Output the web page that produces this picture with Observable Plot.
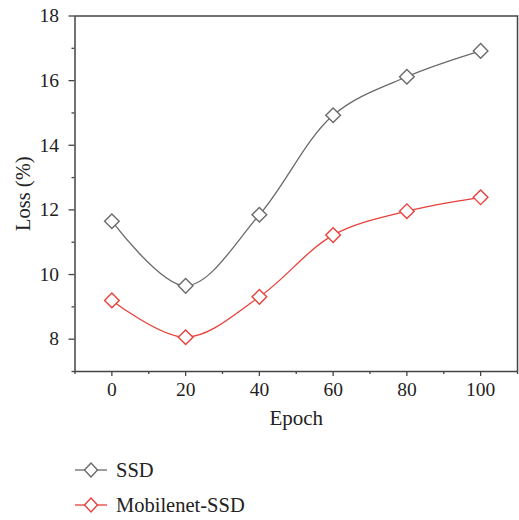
<!DOCTYPE html>
<html>
<head>
<meta charset="utf-8">
<script src="https://cdn.jsdelivr.net/npm/d3@7"></script>
<script src="https://cdn.jsdelivr.net/npm/@observablehq/plot@0.6"></script>
<style>
  body { margin: 0; background: #fff; font-family: 'Liberation Serif', 'DejaVu Serif', serif; }
  #chart svg { display: block; }
  #chart svg text { font-family: 'Liberation Serif', 'DejaVu Serif', serif !important; }
  .legend { position: relative; height: 80px; }
  .legend .row { position: absolute; left: 0; height: 24px; display: flex; align-items: center; font-size: 20.5px; color: #222; font-family: 'Liberation Serif', serif; }
</style>
</head>
<body>
<div id="chart"></div>
<div class="legend" id="legend"></div>
<script>
const epochs = [0, 20, 40, 60, 80, 100];
const ssd = [11.65, 9.65, 11.85, 14.93, 16.12, 16.92];
const mobilenetSsd = [9.2, 8.06, 9.31, 11.22, 11.96, 12.39];
const seriesNames = ["SSD", "Mobilenet-SSD"];
const seriesColors = ["#6a6a6a", "#e8403a"];
const xMajorTicks = [0, 20, 40, 60, 80, 100];
const xMinorTicks = [-10, 10, 30, 50, 70, 90, 110];
const yMajorTicks = [8, 10, 12, 14, 16, 18];
const yMinorTicks = [7, 9, 11, 13, 15, 17];

const data = [];
epochs.forEach((e, i) => {
  data.push({epoch: e, loss: ssd[i], series: seriesNames[0]});
});
epochs.forEach((e, i) => {
  data.push({epoch: e, loss: mobilenetSsd[i], series: seriesNames[1]});
});

const axisColor = "#444";
const fontSize = 19.5;
const serif = "'Liberation Serif', 'DejaVu Serif', serif";

const plot = Plot.plot({
  width: 519,
  height: 440,
  marginLeft: 74.5,
  marginRight: 2,
  marginTop: 15.5,
  marginBottom: 69,
  style: {fontFamily: serif, fontSize: fontSize + "px", color: "#222", background: "#fff"},
  x: {domain: [-10, 110]},
  y: {domain: [7, 18]},
  marks: [
    Plot.axisX({ticks: xMinorTicks, tickSize: 3, tickFormat: () => "", stroke: axisColor, strokeWidth: 1.3, label: null}),
    Plot.axisX({ticks: xMajorTicks, tickSize: 5, tickPadding: 6, stroke: axisColor, strokeWidth: 1.3, label: null, fontSize: fontSize, fill: "#222", fontFamily: serif}),
    Plot.axisY({ticks: yMinorTicks, tickSize: 3, tickFormat: () => "", stroke: axisColor, strokeWidth: 1.3, label: null}),
    Plot.axisY({ticks: yMajorTicks, tickSize: 6, tickPadding: 10, stroke: axisColor, strokeWidth: 1.3, label: null, fontSize: fontSize, fill: "#222", fontFamily: serif}),
    Plot.frame({stroke: axisColor, strokeWidth: 1.5}),
    Plot.line(data, {x: "epoch", y: "loss", z: "series", stroke: d => seriesColors[seriesNames.indexOf(d.series)], strokeWidth: 1.3, curve: "catmull-rom"}),
    Plot.dot(data, {x: "epoch", y: "loss", symbol: "diamond2", r: 6.6, fill: "#fff", stroke: d => seriesColors[seriesNames.indexOf(d.series)], strokeWidth: 1.4}),
    Plot.text(["Epoch"], {frameAnchor: "bottom", dy: 53, fontSize: 21, fill: "#222", fontFamily: serif, text: d => d}),
    Plot.text(["Loss (%)"], {frameAnchor: "left", dx: -52, rotate: -90, textAnchor: "middle", fontSize: 20.5, fill: "#222", fontFamily: serif, text: d => d})
  ]
});
document.getElementById("chart").appendChild(plot);

// Legend
const legend = document.getElementById("legend");
const rowTops = [30, 65];
seriesNames.forEach((name, i) => {
  const row = document.createElement("div");
  row.className = "row";
  row.style.top = (rowTops[i] - 12) + "px";
  const c = seriesColors[i];
  row.innerHTML = `<svg width="112" height="24" style="display:block"><line x1="75" x2="107" y1="12" y2="12" stroke="${c}" stroke-width="1.3"/><path d="M91,5 L97.5,12 L91,19 L84.5,12 Z" fill="#fff" stroke="${c}" stroke-width="1.4"/></svg><span style="margin-left:4px">${name}</span>`;
  legend.appendChild(row);
});
</script>
</body>
</html>
